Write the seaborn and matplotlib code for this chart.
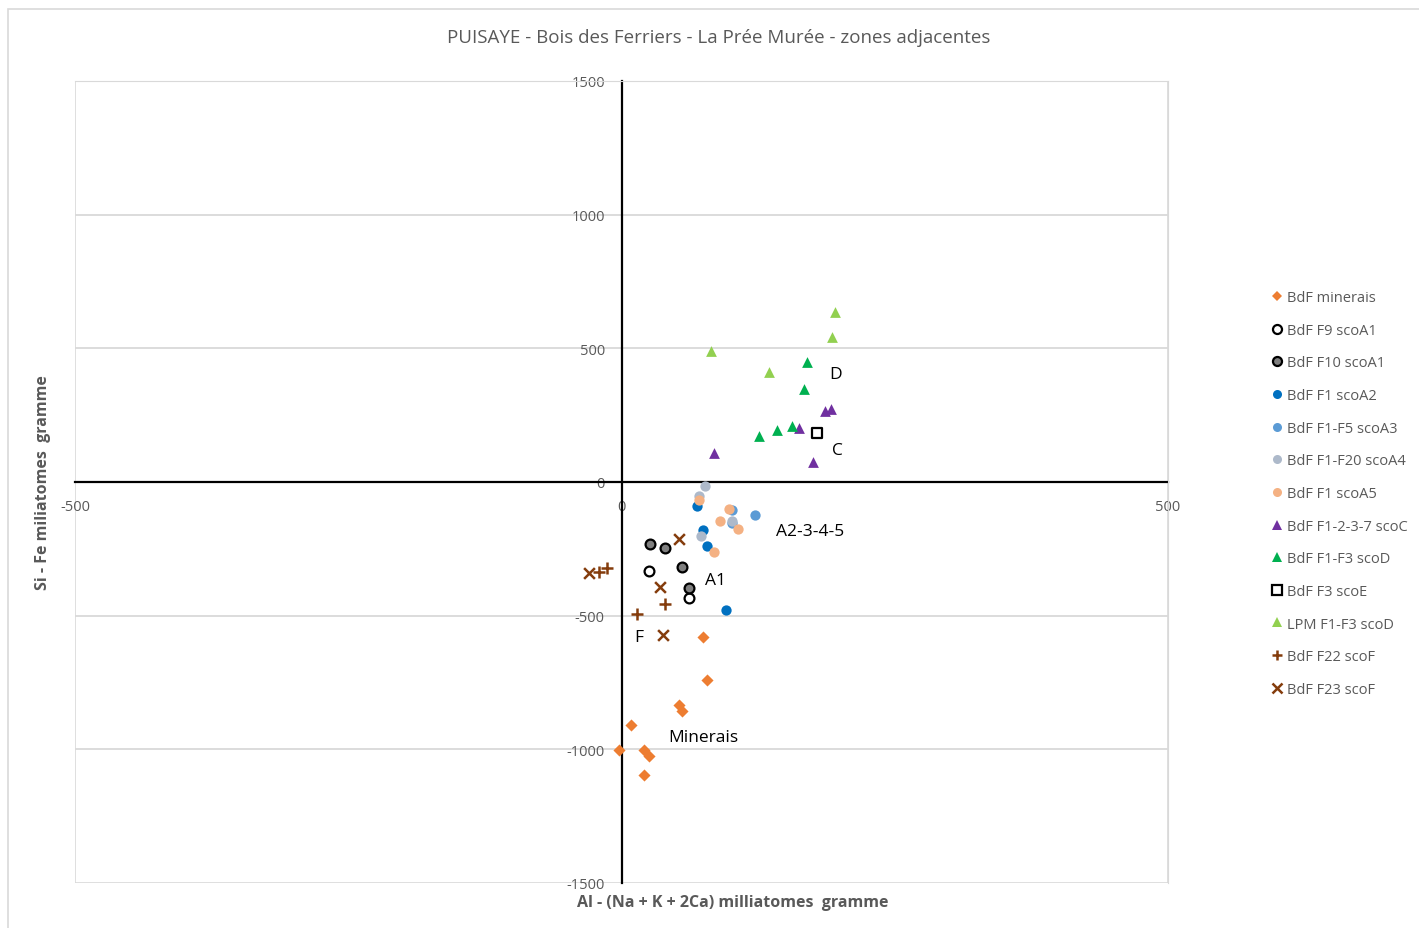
import numpy as np
import pandas as pd
import matplotlib.pyplot as plt
import seaborn as sns
from matplotlib.patches import Rectangle
from matplotlib.lines import Line2D

# values
minerais_x = [75, 78, 53, 55, 9, -2, 21, 25, 21]
minerais_y = [-581, -741, -834, -858, -908, -1001, -1001, -1024, -1095]
f9_x = [25, 62]
f9_y = [-334, -435]
f10_x = [26, 40, 55, 62]
f10_y = [-233, -247, -319, -398]
a2_x = [69, 75, 78, 96]
a2_y = [-89, -180, -239, -480]
a3_x = [122, 101, 101]
a3_y = [-123, -104, -153]
a4_x = [76, 71, 101, 73]
a4_y = [-16, -51, -145, -203]
a5_x = [71, 98, 90, 107, 85]
a5_y = [-66, -102, -146, -176, -262]
scoc_x = [162, 186, 192, 175, 85]
scoc_y = [201, 267, 273, 74, 108]
scod_x = [170, 167, 126, 142, 156]
scod_y = [450, 348, 173, 195, 211]
scoe_x = [179]
scoe_y = [182]
lpm_x = [195, 193, 82, 135]
lpm_y = [637, 544, 491, 411]
f22_x = [-13, -21, 40, 14]
f22_y = [-321, -338, -456, -495]
f23_x = [-30, 53, 35, 38]
f23_y = [-340, -212, -392, -572]

series = [
    ("BdF minerais", minerais_x, minerais_y, "D", "#ED7D31", "#ED7D31", 38),
    ("BdF F9 scoA1", f9_x, f9_y, "o", "white", "black", 50),
    ("BdF F10 scoA1", f10_x, f10_y, "o", "#7F7F7F", "black", 50),
    ("BdF F1 scoA2", a2_x, a2_y, "o", "#0070C0", "#0070C0", 55),
    ("BdF F1-F5 scoA3", a3_x, a3_y, "o", "#5B9BD5", "#5B9BD5", 55),
    ("BdF F1-F20 scoA4", a4_x, a4_y, "o", "#ADB9CA", "#ADB9CA", 55),
    ("BdF F1 scoA5", a5_x, a5_y, "o", "#F4B183", "#F4B183", 55),
    ("BdF F1-2-3-7 scoC", scoc_x, scoc_y, "^", "#7030A0", "#7030A0", 60),
    ("BdF F1-F3 scoD", scod_x, scod_y, "^", "#00B050", "#00B050", 60),
    ("BdF F3 scoE", scoe_x, scoe_y, "s", "white", "black", 45),
    ("LPM F1-F3 scoD", lpm_x, lpm_y, "^", "#92D050", "#92D050", 60),
    ("BdF F22 scoF", f22_x, f22_y, "+", "#843C0C", "#843C0C", 70),
    ("BdF F23 scoF", f23_x, f23_y, "x", "#843C0C", "#843C0C", 60),
]

labels_txt = ["D", "C", "A2-3-4-5", "A1", "F", "Minerais"]
labels_x = [190, 193, 141, 76, 12, 43]
labels_y = [404, 120, -183, -367, -580, -954]

sns.set_style("white")
plt.rcParams['font.family'] = ['Open Sans', 'DejaVu Sans']
plt.rcParams['axes.unicode_minus'] = False

fig = plt.figure(figsize=(14.19, 9.29), dpi=100)
fig.patches.append(Rectangle((8/1419, -0.05), 1, 1.05 - 10/929, transform=fig.transFigure,
                             fill=False, edgecolor="#D9D9D9", linewidth=1.2))
ax = fig.add_axes([75/1419, 1 - 884/929, 1093/1419, 802/929])

for yy in [-1000, -500, 500, 1000]:
    ax.axhline(yy, color="#D9D9D9", lw=1.3, zorder=0)

handles = []
for name, xs, ys, mk, fc, ec, s in series:
    df = pd.DataFrame({"x": xs, "y": ys})
    if mk in ["+", "x"]:
        sns.scatterplot(data=df, x="x", y="y", marker=mk, color=fc, s=s,
                        linewidth=1.8, ax=ax, zorder=3)
        handles.append(Line2D([], [], ls="", marker=mk, color=fc, markersize=7, mew=1.8))
    else:
        lw = 1.6 if ec == "black" else 0
        sns.scatterplot(data=df, x="x", y="y", marker=mk, facecolor=fc, edgecolor=ec,
                        s=s, linewidth=lw, ax=ax, zorder=3)
        handles.append(Line2D([], [], ls="", marker=mk, markerfacecolor=fc,
                              markeredgecolor=ec, markeredgewidth=lw if lw else 0,
                              markersize=6.5 if mk != "D" else 5.5))

for t, tx, ty in zip(labels_txt, labels_x, labels_y):
    ax.text(tx, ty, t, fontsize=12.5, color="black", va="center", ha="left")

ax.set_xlim(-500, 500)
ax.set_ylim(-1500, 1500)

for side in ["top", "right"]:
    ax.spines[side].set_color("#D9D9D9")
for side in ["left", "bottom"]:
    ax.spines[side].set_position("zero")
    ax.spines[side].set_color("black")
    ax.spines[side].set_linewidth(1.6)
    ax.spines[side].set_zorder(2)
# light frame on the outer edges
ax.add_patch(Rectangle((0, 0), 1, 1, transform=ax.transAxes, fill=False,
                       edgecolor="#D9D9D9", lw=1.2, zorder=0))

ax.set_xticks([-500, 0, 500])
ax.set_xticks(np.arange(-500, 501, 100), minor=True)
ax.set_yticks(np.arange(-1500, 1501, 500))
ax.tick_params(axis="x", which="major", length=0, pad=12, labelsize=10.5, labelcolor="#595959")
ax.tick_params(axis="x", which="minor", direction="inout", length=9, width=1.6, color="black")
ax.tick_params(axis="y", length=0, pad=12, labelsize=10.5, labelcolor="#595959")

ax.set_xlabel("")
ax.set_ylabel("")
fig.text(733/1419, 1 - 903/929, "Al - (Na + K + 2Ca) milliatomes  gramme", ha="center",
         va="center", fontsize=11.5, fontweight="bold", color="#595959")
fig.text(43/1419, 1 - 483/929, "Si - Fe miliatomes  gramme", ha="center", va="center",
         rotation=90, fontsize=11.5, fontweight="bold", color="#595959")
fig.text(719/1419, 1 - 38/929, "PUISAYE - Bois des Ferriers - La Prée Murée - zones adjacentes",
         ha="center", va="center", fontsize=13.5, color="#595959")

fig.legend(handles, [s[0] for s in series], loc="upper left",
           bbox_to_anchor=(1255/1419, 1 - 278/929), frameon=False, fontsize=10.5,
           labelcolor="#595959", labelspacing=1.21, handletextpad=0.1, handlelength=1.2)

fig.savefig("out.png", dpi=100)
